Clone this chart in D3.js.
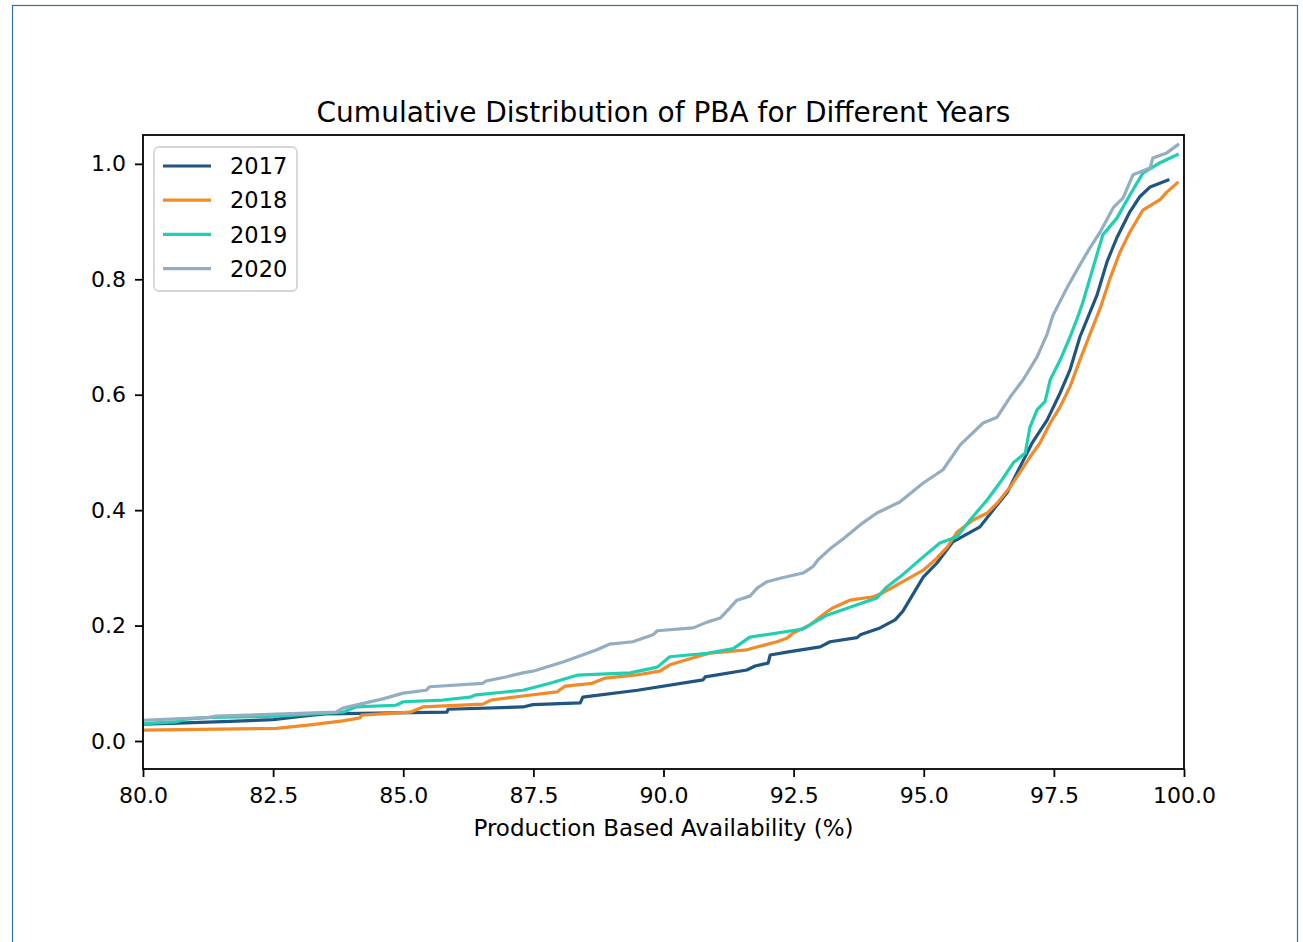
<!DOCTYPE html>
<html>
<head>
<meta charset="utf-8">
<script src="https://cdn.jsdelivr.net/npm/d3@7"></script>
<style>
  html, body { margin: 0; padding: 0; background: #ffffff; }
  svg { display: block; font-family: "DejaVu Sans", sans-serif; }
</style>
</head>
<body>
<svg id="chart" width="1303" height="942"></svg>
<script>
// Empirical CDF of production based availability, one curve per year: [PBA %, cumulative share]
const pba2017 = [[80.00,0.029],[80.67,0.031],[81.67,0.034],[82.50,0.037],[83.07,0.043],[83.50,0.047],[85.84,0.050],[85.86,0.055],[87.30,0.059],[87.49,0.063],[88.40,0.066],[88.45,0.076],[89.50,0.088],[90.76,0.106],[90.80,0.111],[91.60,0.123],[91.76,0.130],[92.01,0.135],[92.05,0.149],[92.37,0.154],[93.01,0.163],[93.20,0.172],[93.72,0.179],[93.78,0.184],[94.16,0.196],[94.45,0.210],[94.60,0.225],[94.99,0.284],[95.25,0.308],[95.56,0.345],[96.08,0.371],[96.33,0.400],[96.60,0.430],[96.85,0.475],[97.08,0.516],[97.37,0.556],[97.62,0.603],[97.81,0.643],[98.00,0.700],[98.33,0.773],[98.52,0.830],[98.71,0.872],[98.96,0.917],[99.15,0.943],[99.35,0.960],[99.69,0.972]];
const pba2018 = [[80.00,0.019],[82.56,0.022],[83.21,0.028],[83.84,0.035],[84.17,0.040],[84.20,0.045],[85.13,0.050],[85.38,0.059],[86.53,0.064],[86.69,0.071],[87.30,0.078],[87.95,0.085],[88.11,0.095],[88.63,0.100],[88.88,0.109],[89.45,0.114],[89.93,0.121],[90.12,0.132],[90.64,0.146],[90.89,0.152],[91.60,0.158],[92.18,0.172],[92.37,0.178],[92.49,0.187],[92.81,0.201],[93.14,0.224],[93.26,0.231],[93.58,0.244],[94.03,0.250],[94.22,0.257],[94.60,0.276],[94.99,0.296],[95.22,0.314],[95.45,0.336],[95.64,0.362],[95.95,0.383],[96.22,0.395],[96.41,0.412],[96.66,0.440],[96.85,0.466],[97.04,0.492],[97.23,0.516],[97.43,0.551],[97.62,0.579],[97.81,0.614],[98.00,0.660],[98.19,0.704],[98.39,0.750],[98.58,0.802],[98.77,0.847],[98.96,0.882],[99.21,0.920],[99.54,0.938],[99.67,0.951],[99.87,0.967]];
const pba2019 = [[80.00,0.030],[80.63,0.033],[80.83,0.038],[81.29,0.041],[82.56,0.043],[83.84,0.050],[84.09,0.059],[84.86,0.062],[85.00,0.068],[85.76,0.071],[86.28,0.076],[86.40,0.080],[87.30,0.088],[87.82,0.100],[88.34,0.114],[89.36,0.118],[89.88,0.128],[90.12,0.146],[90.84,0.152],[91.34,0.160],[91.66,0.180],[92.68,0.194],[92.81,0.201],[93.14,0.218],[93.72,0.236],[94.10,0.248],[94.29,0.267],[94.54,0.284],[94.99,0.319],[95.31,0.343],[95.64,0.354],[95.89,0.383],[96.22,0.418],[96.46,0.447],[96.72,0.482],[96.95,0.499],[97.04,0.544],[97.18,0.574],[97.33,0.588],[97.43,0.626],[97.62,0.660],[97.81,0.700],[97.94,0.730],[98.06,0.761],[98.23,0.813],[98.44,0.877],[98.71,0.906],[98.96,0.946],[99.21,0.984],[99.54,1.002],[99.87,1.016]];
const pba2020 = [[80.00,0.036],[81.29,0.041],[81.40,0.043],[83.71,0.050],[83.84,0.057],[84.17,0.064],[84.61,0.073],[85.00,0.083],[85.44,0.088],[85.51,0.094],[86.53,0.100],[86.59,0.104],[86.97,0.111],[87.30,0.118],[87.49,0.121],[88.07,0.137],[88.72,0.158],[88.97,0.168],[89.41,0.172],[89.80,0.184],[89.88,0.191],[90.57,0.196],[90.84,0.206],[91.09,0.213],[91.28,0.231],[91.41,0.244],[91.66,0.251],[91.80,0.265],[91.99,0.276],[92.24,0.282],[92.68,0.291],[92.87,0.302],[92.97,0.314],[93.20,0.333],[93.45,0.350],[93.83,0.378],[94.10,0.395],[94.54,0.414],[94.99,0.447],[95.37,0.470],[95.70,0.513],[96.14,0.551],[96.41,0.561],[96.66,0.596],[96.91,0.626],[97.18,0.666],[97.37,0.705],[97.48,0.737],[97.75,0.785],[98.00,0.825],[98.19,0.854],[98.39,0.882],[98.64,0.924],[98.83,0.941],[99.02,0.981],[99.35,0.993],[99.40,1.010],[99.67,1.019],[99.88,1.033]];

const years = ["2017", "2018", "2019", "2020"];
const seriesData = [pba2017, pba2018, pba2019, pba2020];
const colors = ["#1f5580", "#f28a2a", "#1fcfb0", "#93adc2"];

const xTicks = [80, 82.5, 85, 87.5, 90, 92.5, 95, 97.5, 100];
const yTicks = [0, 0.2, 0.4, 0.6, 0.8, 1.0];

const titleText = "Cumulative Distribution of PBA for Different Years";
const xLabelText = "Production Based Availability (%)";

const svg = d3.select("#chart");
const plot = { left: 143, top: 135, right: 1184, bottom: 769 };

// outer frame
svg.append("rect")
  .attr("x", 12.5).attr("y", 5.5)
  .attr("width", 1285).attr("height", 945)
  .attr("fill", "none").attr("stroke", "#2f6fa6").attr("stroke-width", 1.2);

const x = d3.scaleLinear().domain([80, 100]).range([plot.left, plot.right]);
const y = d3.scaleLinear().domain([-0.0485, 1.05]).range([plot.bottom, plot.top]);

svg.append("defs").append("clipPath").attr("id", "plotClip")
  .append("rect")
  .attr("x", plot.left).attr("y", plot.top)
  .attr("width", plot.right - plot.left).attr("height", plot.bottom - plot.top);

const line = d3.line().x(d => x(d[0])).y(d => y(d[1]));

const lines = svg.append("g").attr("clip-path", "url(#plotClip)");
seriesData.forEach((s, i) => {
  lines.append("path")
    .datum(s)
    .attr("d", line)
    .attr("fill", "none")
    .attr("stroke", colors[i])
    .attr("stroke-width", 3.2)
    .attr("stroke-linejoin", "round")
    .attr("stroke-linecap", "square");
});

// axes
const fmt = d3.format(".1f");
const xAxis = svg.append("g")
  .attr("transform", `translate(0,${plot.bottom})`)
  .call(d3.axisBottom(x).tickValues(xTicks).tickFormat(fmt).tickSize(8).tickPadding(10));
const yAxis = svg.append("g")
  .attr("transform", `translate(${plot.left},0)`)
  .call(d3.axisLeft(y).tickValues(yTicks).tickFormat(fmt).tickSize(8).tickPadding(9));

[xAxis, yAxis].forEach(g => {
  g.select(".domain").remove();
  g.selectAll(".tick line").attr("stroke", "#000").attr("stroke-width", 1.8);
  g.selectAll(".tick text")
    .attr("fill", "#000")
    .style("font-family", "'DejaVu Sans', sans-serif")
    .style("font-size", "22px");
});

// plot frame
svg.append("rect")
  .attr("x", plot.left).attr("y", plot.top)
  .attr("width", plot.right - plot.left).attr("height", plot.bottom - plot.top)
  .attr("fill", "none").attr("stroke", "#000").attr("stroke-width", 1.8);

// title and axis label
svg.append("text")
  .attr("x", (plot.left + plot.right) / 2).attr("y", 122)
  .attr("text-anchor", "middle")
  .style("font-size", "28px").attr("fill", "#000")
  .text(titleText);

svg.append("text")
  .attr("x", (plot.left + plot.right) / 2).attr("y", 836)
  .attr("text-anchor", "middle")
  .style("font-size", "23px").attr("fill", "#000")
  .text(xLabelText);

// legend
const legend = svg.append("g");
legend.append("rect")
  .attr("x", 154).attr("y", 147)
  .attr("width", 143).attr("height", 144)
  .attr("rx", 5).attr("ry", 5)
  .attr("fill", "#ffffff").attr("fill-opacity", 0.8)
  .attr("stroke", "#d6d6d6").attr("stroke-width", 1.8);

years.forEach((yr, i) => {
  const cy = 166 + i * 34.2;
  legend.append("line")
    .attr("x1", 163).attr("x2", 211)
    .attr("y1", cy).attr("y2", cy)
    .attr("stroke", colors[i]).attr("stroke-width", 3.2);
  legend.append("text")
    .attr("x", 230).attr("y", cy).attr("dy", "0.36em")
    .style("font-size", "22.5px").attr("fill", "#000")
    .text(yr);
});
</script>
</body>
</html>
